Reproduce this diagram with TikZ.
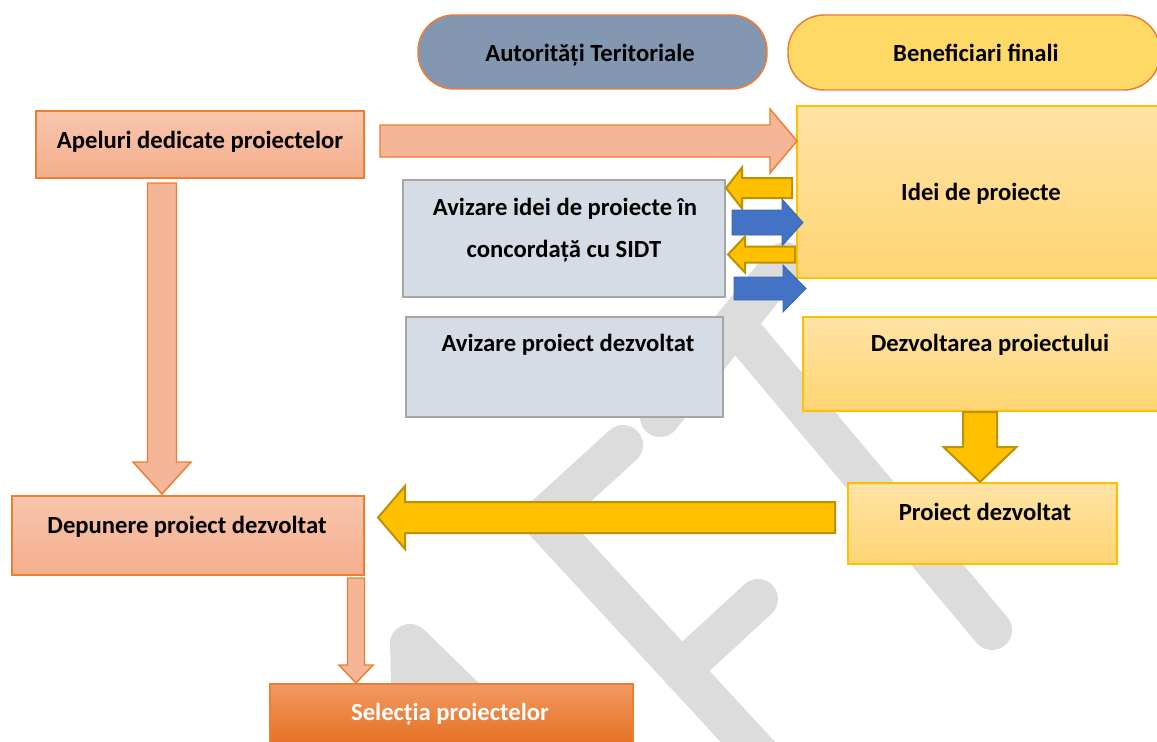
\documentclass[tikz,border=0pt]{standalone}
\usepackage{fontspec}
\setmainfont{Carlito}
\usetikzlibrary{fit}
\definecolor{salfill}{HTML}{F5B697}
\definecolor{saltop}{HTML}{F8C6AD}
\definecolor{salbot}{HTML}{F4AE8C}
\definecolor{salline}{HTML}{ED7D31}
\definecolor{seltop}{HTML}{F29A62}
\definecolor{selbot}{HTML}{E46C1E}
\definecolor{goldfill}{HTML}{FFC000}
\definecolor{goldline}{HTML}{BF9000}
\definecolor{ytop}{HTML}{FFE3A6}
\definecolor{ybot}{HTML}{FFD572}
\definecolor{yline}{HTML}{FFC000}
\definecolor{grayfill}{HTML}{D6DCE5}
\definecolor{grayline}{HTML}{A6A6A6}
\definecolor{pillblue}{HTML}{8497B0}
\definecolor{pillgold}{HTML}{FFD966}
\definecolor{bluefill}{HTML}{4472C4}
\definecolor{blueline}{HTML}{3A65B4}
\definecolor{wmgray}{HTML}{DCDCDC}
\newcommand\barrow[8]{%
  \begin{scope}[shift={(#2,#3)},rotate=#4]
    \path[#1] (0,-#6) -- ({#5-#8},-#6) -- ({#5-#8},-#7) -- (#5,0)
      -- ({#5-#8},#7) -- ({#5-#8},#6) -- (0,#6) -- cycle;
  \end{scope}}
\tikzset{
  sbox/.style={draw=salline, line width=1.1pt, top color=saltop, bottom color=salbot, inner sep=0pt},
  selbox/.style={draw=salline, line width=1.1pt, top color=seltop, bottom color=selbot, inner sep=0pt},
  ybox/.style={draw=yline, line width=1.1pt, top color=ytop, bottom color=ybot, inner sep=0pt},
  gbox/.style={draw=grayline, line width=1.1pt, fill=grayfill, inner sep=0pt},
  pill/.style={draw=salline, line width=1.1pt, rounded corners=27pt, inner sep=0pt},
  lbl/.style={font=\fontsize{18.5pt}{22pt}\selectfont\bfseries, inner sep=0pt, anchor=base, text=black},
  sarrow/.style={draw=salline, line width=1.1pt, fill=salfill},
  garrow/.style={draw=goldline, line width=1.5pt, fill=goldfill},
  barrowst/.style={draw=blueline, line width=0.6pt, fill=bluefill},
  wm/.style={draw=wmgray, line width=30pt, line cap=round, line join=miter}
}
\begin{document}
\begin{tikzpicture}[x=0.75pt, y=-0.75pt]
\fill[white] (0,0) rectangle (1157,742);
\useasboundingbox (0,0) rectangle (1157,742);
\clip (0,0) rectangle (1157,742);

% watermark
\draw[wm] (660,417) -- (785,262);
\draw[wm] (735,324) -- (992,630);
\draw[wm] (623,445) -- (542,519) -- (783,780);
\draw[wm] (681,670) -- (758,599);
\draw[wm, line join=round] (414,790) -- (410,644) -- (560,790);

% headers
\node[pill, fill=pillblue, fit={(418,15) (767,89)}] (auth) {};
\node[pill, fill=pillgold, fit={(788,15) (1160,90)}] (benef) {};
\node[lbl] (auth-t) at (590,62) {Autorități Teritoriale};
\node[lbl] (benef-t) at (976,62) {Beneficiari finali};

% boxes
\node[sbox, fit={(36,111) (364,178)}] (apel) {};
\node[sbox, fit={(12,496) (364,575)}] (depun) {};
\node[selbox, fit={(270,684) (633,750)}] (selec) {};
\node[gbox, fit={(403,180) (725,297)}] (avidei) {};
\node[gbox, fit={(406,317) (723,417)}] (aviproj) {};
\node[ybox, fit={(797,106) (1170,278)}] (idei) {};
\node[ybox, fit={(803,317) (1180,411)}] (dezv) {};
\node[ybox, fit={(848,483) (1117,564)}] (proj) {};

% texts
\node[lbl] (apel-t) at (200,148) {Apeluri dedicate proiectelor};
\node[lbl] (depun-t) at (187,533) {Depunere proiect dezvoltat};
\node[lbl, text=white] (selec-t) at (450,720) {Selecția proiectelor};
\node[lbl] (avidei-t1) at (565,215) {Avizare idei de proiecte în};
\node[lbl] (avidei-t2) at (564,257) {concordață cu SIDT};
\node[lbl] (aviproj-t) at (568,351) {Avizare proiect dezvoltat};
\node[lbl] (idei-t) at (981,200) {Idei de proiecte};
\node[lbl] (dezv-t) at (990,351) {Dezvoltarea proiectului};
\node[lbl] (proj-t) at (985,520) {Proiect dezvoltat};

% block arrows
\barrow{sarrow}{380}{141}{0}{417}{16}{32}{27}
\barrow{sarrow}{162}{183}{-90}{311}{14.5}{29}{32}
\barrow{sarrow}{356}{578}{-90}{105}{8.5}{17}{18}
\barrow{garrow}{835}{517.5}{180}{457}{15.5}{31.5}{27}
\barrow{garrow}{980}{412}{-90}{70}{17}{36.5}{35}
\barrow{garrow}{792}{188}{180}{66}{10}{20.5}{16}
\barrow{barrowst}{732}{222.5}{0}{71}{12.5}{23.5}{21}
\barrow{garrow}{795}{254.5}{180}{67}{8}{18}{17}
\barrow{barrowst}{734}{288.5}{0}{72}{11.5}{23.5}{23}
\end{tikzpicture}
\end{document}
